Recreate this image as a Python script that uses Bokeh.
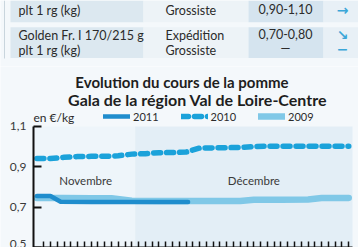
from bokeh.plotting import figure
from bokeh.layouts import column
from bokeh.models import FixedTicker, Legend, LegendItem, Label, Range1d, LinearAxis
from bokeh.embed import file_html
from bokeh.resources import INLINE
from bokeh.core.properties import value

FONT = "Lato"
PAGE_BG = "#f4f8fb"

# ---------------- table data ----------------
tbl_product = [["plt 1 rg (kg)"], ["Golden Fr. I 170/215 g", "plt 1 rg (kg)"]]
tbl_stage = [["Grossiste"], ["Expédition", "Grossiste"]]
tbl_price = [["0,90-1,10"], ["0,70-0,80", "—"]]
tbl_trend = [["→"], ["↘", "−"]]

# ---------------- chart data ----------------
days_2011 = [0, 2, 3.5, 8, 12, 16, 20, 22.3]
price_2011 = [0.755, 0.755, 0.727, 0.726, 0.726, 0.726, 0.726, 0.726]

days_2010 = [0, 2, 4, 6, 8, 10, 12, 14, 16, 18, 20, 22, 24, 26, 28, 30, 32, 34, 36, 38, 40, 42, 44, 46]
price_2010 = [0.941, 0.941, 0.947, 0.951, 0.952, 0.952, 0.955, 0.963, 0.965, 0.970, 0.971, 0.973,
              0.993, 0.994, 0.995, 0.996, 1.001, 1.002, 1.002, 1.002, 1.002, 1.002, 1.002, 1.002]

days_2009 = [0, 2, 4, 8, 11, 14, 18, 22, 26, 30, 32, 36, 40, 42, 46]
price_2009 = [0.745, 0.745, 0.745, 0.744, 0.744, 0.732, 0.731, 0.731, 0.731, 0.731, 0.737, 0.737,
              0.738, 0.745, 0.746]

day_ticks = list(range(1, 47))
months = ["Novembre", "Décembre"]
month_start = [-0.5, 14.5]
month_end = [14.5, 46.55]
month_label_x = [7.2, 32.0]
yticks = [0.5, 0.7, 0.9, 1.1]
ytick_labels = ["0,5", "0,7", "0,9", "1,1"]

# ---------------- table figure ----------------
t = figure(width=358, height=66, x_range=Range1d(0, 358), y_range=Range1d(66, 0),
           x_axis_location=None, y_axis_location=None,
           output_backend="svg", toolbar_location=None, min_border=0,
           background_fill_color=PAGE_BG, border_fill_color=PAGE_BG, outline_line_color=None)
t.grid.visible = False

col_left = [10, 143, 248, 323]
col_right = [143, 248, 323, 358]
col_colors = ["#dce8f0", "#edf3f7", "#d5e4ef", "#e8f0f6"]
row_top = [0, 26.7]
row_bottom = [21.7, 57.5]
ql, qr, qt, qb, qc = [], [], [], [], []
for r in range(2):
    for c in range(4):
        ql.append(col_left[c]); qr.append(col_right[c])
        qt.append(row_top[r]); qb.append(row_bottom[r]); qc.append(col_colors[c])
t.quad(left=ql, right=qr, top=qt, bottom=qb, fill_color=qc, line_color=None)
t.segment(x0=[4], y0=[0], x1=[4], y1=[58], line_color="#c9d5dd", line_width=1)

row_lines_y = [[10], [35, 49.5]]
tx, ty, tt = [], [], []
px, py, pt = [], [], []
ax, ay, at = [], [], []
for r in range(2):
    for i, yy in enumerate(row_lines_y[r]):
        tx += [18, 165]; ty += [yy, yy]
        tt += [tbl_product[r][i], tbl_stage[r][i]]
        px.append(285); py.append(yy - 1.5); pt.append(tbl_price[r][i])
        ax.append(342); ay.append(yy - 1); at.append(tbl_trend[r][i])
t.text(x=tx, y=ty, text=tt, text_font=value(FONT), text_font_size="12.5px",
       text_baseline="middle", text_color="#2b2b2b")
t.text(x=px, y=py, text=pt, text_font=value(FONT), text_font_size="12.5px",
       text_baseline="middle", text_align="center", text_color="#2b2b2b")
t.text(x=ax, y=ay, text=at, text_font=value("DejaVu Sans"), text_font_size="14px",
       text_font_style="bold", text_baseline="middle", text_align="center", text_color="#3aa6d8")

# ---------------- chart figure ----------------
# the frame fills the whole figure; axes are pinned with fixed_location
X_PX = 6.78          # pixels per day
x_start = -0.5 - 33 / X_PX
x_end = -0.5 + (358 - 33) / X_PX
p = figure(width=358, height=181, x_range=Range1d(x_start, x_end), y_range=Range1d(0.5, 1.3975),
           x_axis_location=None, y_axis_location=None,
           output_backend="svg", toolbar_location=None, min_border=0,
           background_fill_color=PAGE_BG, border_fill_color=PAGE_BG, outline_line_color=None)
p.grid.visible = False

p.quad(left=month_start, right=month_end, bottom=0.5, top=1.1,
       fill_color=["#eef5fa", "#e3eef6"], line_color=None)
p.text(x=month_label_x, y=[0.832, 0.832], text=months, text_font=value(FONT),
       text_font_size="11.5px", text_align="center", text_baseline="middle", text_color="#3a3a3a")

r09 = p.line(days_2009, price_2009, line_color="#80c8e7", line_width=6.5,
             line_cap="round", line_join="round")
r11 = p.line(days_2011, price_2011, line_color="#1f8dcd", line_width=4.5,
             line_cap="round", line_join="round")
r10 = p.line(days_2010, price_2010, line_color="#1ba2da", line_width=5.5,
             line_dash="7 6", line_cap="round", line_join="round")

# axes
xaxis = LinearAxis(fixed_location=0.5, ticker=FixedTicker(ticks=[], minor_ticks=day_ticks),
                   bounds=(month_start[0], month_end[-1]),
                   minor_tick_in=6, minor_tick_out=0, minor_tick_line_width=1.5,
                   minor_tick_line_color="#111111", major_tick_in=0, major_tick_out=0,
                   axis_line_width=2, axis_line_color="#111111")
p.add_layout(xaxis, "below")

yaxis = LinearAxis(fixed_location=month_start[0], ticker=FixedTicker(ticks=yticks),
                   bounds=(yticks[0], yticks[-1]),
                   major_label_overrides=dict(zip(yticks, ytick_labels)),
                   major_tick_in=8, major_tick_out=0, minor_tick_in=0, minor_tick_out=0,
                   major_tick_line_width=2, major_tick_line_color="#111111",
                   axis_line_width=2, axis_line_color="#111111",
                   major_label_standoff=7, major_label_text_font=FONT,
                   major_label_text_font_size="12px", major_label_text_color="#3a3a3a")
p.add_layout(yaxis, "left")

# title
for txt, xx, yy, fs in [("Evolution du cours de la pomme", 21.4, 1.323, "15px"),
                        ("Gala de la région Val de Loire-Centre", 23.7, 1.234, "16px")]:
    p.add_layout(Label(x=xx, y=yy, x_units="data", y_units="data", text=txt,
                       text_align="center", text_baseline="middle", text_font=FONT,
                       text_font_size=fs, text_font_style="bold", text_color="#1e1e1e"))
p.add_layout(Label(x=-0.5, y=1.147, x_units="data", y_units="data", text="en €/kg",
                   text_align="left", text_baseline="middle", text_font=FONT,
                   text_font_size="12px", text_color="#2b2b2b"))

legend = Legend(items=[LegendItem(label="2011", renderers=[r11]),
                       LegendItem(label="2010", renderers=[r10]),
                       LegendItem(label="2009", renderers=[r09])],
                orientation="horizontal", location=(103, 124.5), glyph_width=27, glyph_height=10,
                label_height=12, label_width=20, label_standoff=3, spacing=22, padding=0, margin=0,
                border_line_color=None, background_fill_alpha=0,
                label_text_font=FONT, label_text_font_size="11px", label_text_color="#2b2b2b")
p.add_layout(legend)

layout = column(t, p, spacing=0)
open("out.html", "w").write(file_html(layout, INLINE))
